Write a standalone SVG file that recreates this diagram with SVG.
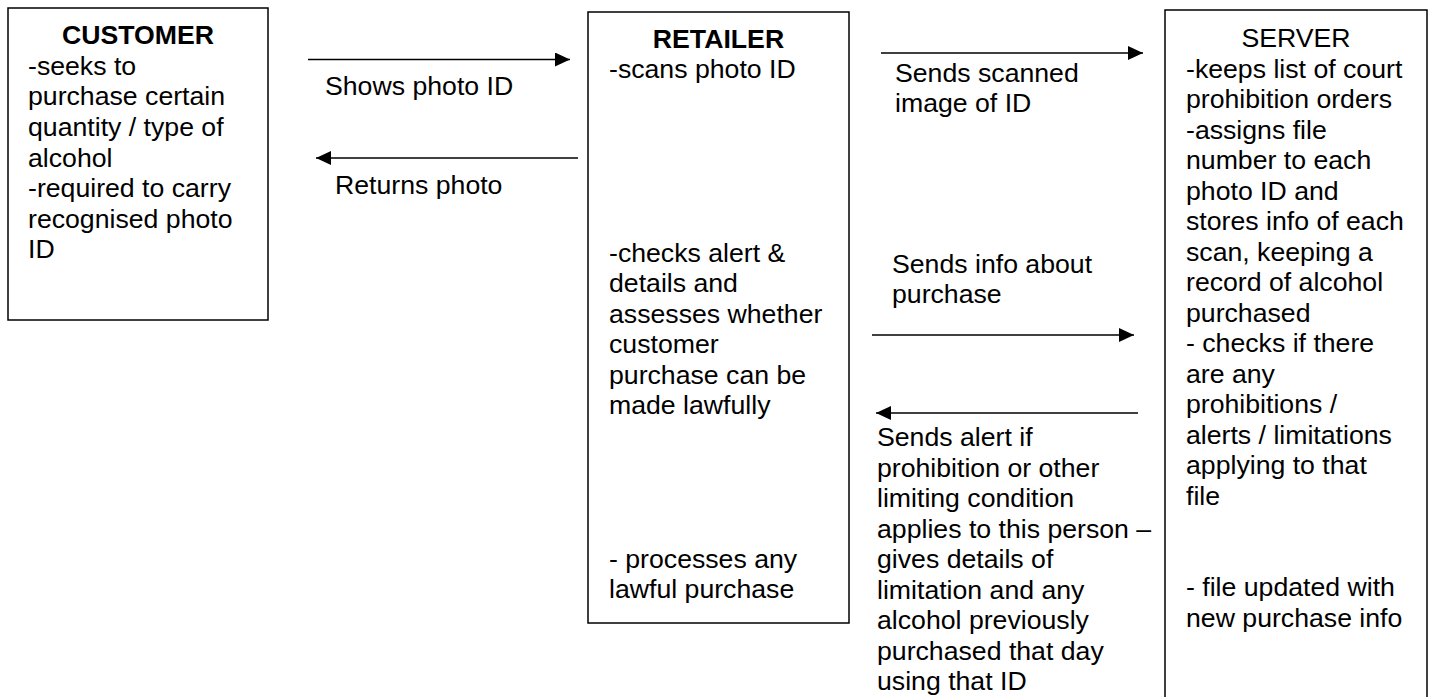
<svg xmlns="http://www.w3.org/2000/svg" width="1432" height="697" viewBox="0 0 1432 697">
<defs>
<style>
.box{fill:#fff;stroke:#000;stroke-width:1.5}
.t{font-family:"Liberation Sans",Arial,sans-serif;font-size:26.67px;fill:#000}
.b{font-weight:bold}
.c{text-anchor:middle}
.ln{stroke:#000;stroke-width:1.5;fill:none}
</style>
<marker id="ah" viewBox="0 0 15 14" refX="15" refY="7" markerWidth="15" markerHeight="14" markerUnits="userSpaceOnUse" orient="auto">
<path d="M0,0 L15,7 L0,14 Z" fill="#000"/>
</marker>
</defs>
<rect width="1432" height="697" fill="#fff"/>
<g id="customer">
<rect class="box" x="8" y="8" width="260" height="312"/>
<text class="t b c" x="138" y="44">CUSTOMER</text>
<text class="t" x="28" y="74.5">-seeks to</text>
<text class="t" x="28" y="105">purchase certain</text>
<text class="t" x="28" y="135.5">quantity / type of</text>
<text class="t" x="28" y="166.5">alcohol</text>
<text class="t" x="28" y="197">-required to carry</text>
<text class="t" x="28" y="227.5">recognised photo</text>
<text class="t" x="28" y="258">ID</text>
</g>
<g id="retailer">
<rect class="box" x="588" y="12" width="261" height="611"/>
<text class="t b c" x="718.5" y="47.5">RETAILER</text>
<text class="t" x="609" y="78">-scans photo ID</text>
<text class="t" x="609" y="261.5">-checks alert &amp;</text>
<text class="t" x="609" y="292">details and</text>
<text class="t" x="609" y="322.5">assesses whether</text>
<text class="t" x="609" y="353">customer</text>
<text class="t" x="609" y="383.5">purchase can be</text>
<text class="t" x="609" y="414">made lawfully</text>
<text class="t" x="609" y="568">- processes any</text>
<text class="t" x="609" y="598">lawful purchase</text>
</g>
<g id="server">
<rect class="box" x="1165" y="10" width="262" height="700"/>
<text class="t c" x="1296" y="47">SERVER</text>
<text class="t" x="1186" y="77.5">-keeps list of court</text>
<text class="t" x="1186" y="108">prohibition orders</text>
<text class="t" x="1186" y="138.5">-assigns file</text>
<text class="t" x="1186" y="169">number to each</text>
<text class="t" x="1186" y="199.5">photo ID and</text>
<text class="t" x="1186" y="230">stores info of each</text>
<text class="t" x="1186" y="260.5">scan, keeping a</text>
<text class="t" x="1186" y="291">record of alcohol</text>
<text class="t" x="1186" y="321.5">purchased</text>
<text class="t" x="1186" y="352">- checks if there</text>
<text class="t" x="1186" y="382.5">are any</text>
<text class="t" x="1186" y="413">prohibitions /</text>
<text class="t" x="1186" y="443.5">alerts / limitations</text>
<text class="t" x="1186" y="474">applying to that</text>
<text class="t" x="1186" y="504.5">file</text>
<text class="t" x="1186" y="596">- file updated with</text>
<text class="t" x="1186" y="626.5">new purchase info</text>
</g>
<g id="connectors">
<line class="ln" x1="308" y1="59.5" x2="570" y2="59.5" marker-end="url(#ah)"/>
<line class="ln" x1="578" y1="158" x2="316" y2="158" marker-end="url(#ah)"/>
<line class="ln" x1="881" y1="53" x2="1143" y2="53" marker-end="url(#ah)"/>
<line class="ln" x1="872" y1="335" x2="1134" y2="335" marker-end="url(#ah)"/>
<line class="ln" x1="1138" y1="413" x2="876" y2="413" marker-end="url(#ah)"/>
</g>
<g id="labels">
<text class="t" x="325" y="95">Shows photo ID</text>
<text class="t" x="335" y="194">Returns photo</text>
<text class="t" x="895" y="82">Sends scanned</text>
<text class="t" x="895" y="111.5">image of ID</text>
<text class="t" x="892" y="273">Sends info about</text>
<text class="t" x="892" y="303">purchase</text>
<text class="t" x="877" y="446">Sends alert if</text>
<text class="t" x="877" y="476.5">prohibition or other</text>
<text class="t" x="877" y="507">limiting condition</text>
<text class="t" x="877" y="537.5">applies to this person –</text>
<text class="t" x="877" y="568">gives details of</text>
<text class="t" x="877" y="598.5">limitation and any</text>
<text class="t" x="877" y="629">alcohol previously</text>
<text class="t" x="877" y="659.5">purchased that day</text>
<text class="t" x="877" y="690">using that ID</text>
</g>
</svg>
